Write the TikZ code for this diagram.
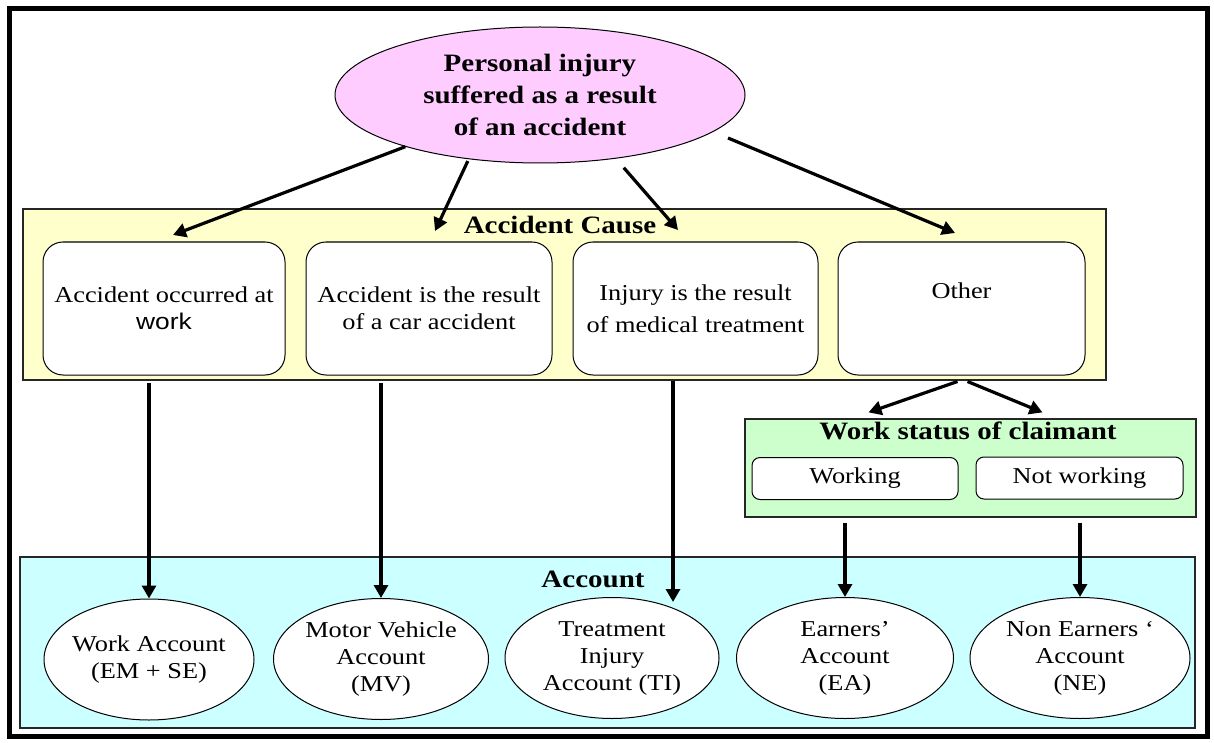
\documentclass[tikz,border=0pt]{standalone}
\usepackage{fontspec}
\setmainfont[FakeStretch=1.16]{Liberation Serif}
\newfontfamily\arialfont[FakeStretch=1.16]{Liberation Sans}
\usetikzlibrary{shapes.geometric, arrows.meta, calc}
\definecolor{pinkfill}{RGB}{255,204,255}
\definecolor{causefill}{RGB}{255,255,204}
\definecolor{statusfill}{RGB}{204,255,204}
\definecolor{accountfill}{RGB}{204,255,255}

\begin{document}
\begin{tikzpicture}[x=1pt, y=-1pt,
    txt/.style={font=\fontsize{22.7}{27}\selectfont, align=center, inner sep=0pt},
    head/.style={font=\fontsize{25}{32}\selectfont\bfseries, align=center, inner sep=0pt},
    panel/.style={draw=black!85, line width=1.2pt, inner sep=0pt},
    causenode/.style={txt, draw, line width=1pt, fill=white, rounded corners=20pt, minimum height=133pt},
    statenode/.style={txt, draw, line width=1pt, fill=white, rounded corners=8pt, minimum height=42pt, minimum width=206pt},
    acct/.style={txt, ellipse, draw, line width=1pt, fill=white, minimum height=121pt, inner xsep=-4pt},
    arr/.style={line width=3.2pt, -{Triangle[length=13pt,width=14pt]}}]
  \useasboundingbox (0,0) rectangle (1214,743);
  \draw[line width=5pt] (9,9) rectangle (1207,736);

  \node[head, ellipse, draw, line width=1pt, fill=pinkfill, minimum width=410pt, minimum height=136pt] (injury) at (540,95) {Personal injury\\suffered as a result\\of an accident};

  \node[panel, fill=causefill, minimum width=1083pt, minimum height=171pt] (cause) at (564.5,294.5) {};
  \node[head] (causetitle) at (560,225) {Accident Cause};
  \node[causenode, minimum width=242pt] (work) at (164,308.5) {Accident occurred at\\{\arialfont work}};
  \node[causenode, minimum width=246pt] (car) at (429,308.5) {Accident is the result\\of a car accident};
  \node[causenode, minimum width=245pt, font=\fontsize{22.7}{32}\selectfont] (medical) at (695.5,308.5) {Injury is the result\\of medical treatment};
  \node[causenode, minimum width=247pt] (other) at (961.5,308.5) {Other\\\strut};

  \node[panel, fill=statusfill, minimum width=451pt, minimum height=98pt] (status) at (970.5,468) {};
  \node[head] (statustitle) at (968,431) {Work status of claimant};
  \node[statenode] (working) at (855,478.5) {Working};
  \node[statenode, minimum width=207pt] (notworking) at (1079.5,478) {Not working};

  \node[panel, fill=accountfill, minimum width=1175pt, minimum height=171pt] (account) at (607.5,642.5) {};
  \node[head] (accounttitle) at (593,579) {Account};
  \node[acct, minimum width=210pt] (acwork) at (149,659.5) {Work Account\\(EM + SE)};
  \node[acct, minimum width=215pt] (acmotor) at (381,659) {Motor Vehicle\\Account\\(MV)};
  \node[acct, minimum width=214pt] (actreat) at (612,658) {Treatment\\Injury\\Account (TI)};
  \node[acct, minimum width=217pt] (acearn) at (845,658) {Earners’\\Account\\(EA)};
  \node[acct, minimum width=220pt] (acnon) at (1080,658) {Non Earners ‘\\Account\\(NE)};

  \coordinate (t1) at (173,235);
  \coordinate (t2) at (435,231);
  \coordinate (t3) at (678,230);
  \coordinate (t4) at (955,233);
  \draw[arr] (injury.201) -- (t1);
  \draw[arr, shorten <=2pt] (injury.222) -- (t2);
  \draw[arr, shorten <=12pt] (injury.320) -- (t3);
  \draw[arr, shorten <=16pt] (injury.348.5) -- (t4);

  \draw[arr] ($(other.south)+(-4,6)$) -- ($(status.north)+(-102,-6)$);
  \draw[arr] ($(other.south)+(6,6)$) -- ($(status.north)+(72,-6)$);

  \draw[arr, shorten <=2pt] (cause.south -| acwork.north) -- (acwork.north);
  \draw[arr, shorten <=2pt] (cause.south -| acmotor.north) -- (acmotor.north);
  \draw[arr] ($(cause.south -| actreat.north)+(61,0)$) -- ($(actreat.north)+(61,5)$);
  \draw[arr, shorten <=5pt] (status.south -| acearn.north) -- (acearn.north);
  \draw[arr, shorten <=5pt] (status.south -| acnon.north) -- (acnon.north);
\end{tikzpicture}
\end{document}
